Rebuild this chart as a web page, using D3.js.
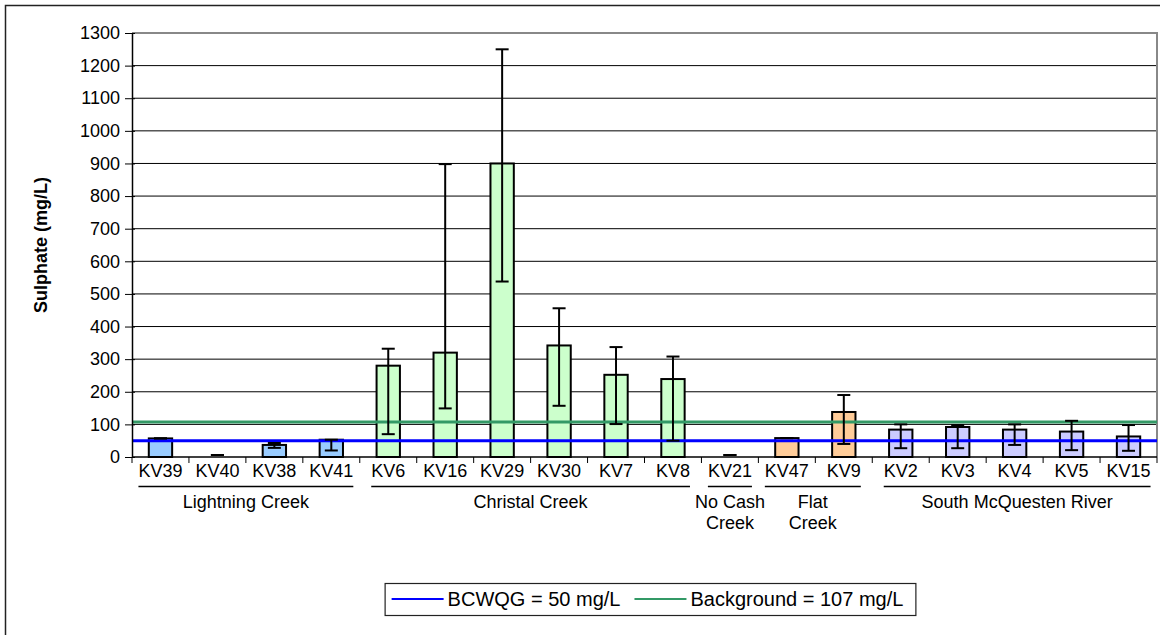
<!DOCTYPE html>
<html>
<head>
<meta charset="utf-8">
<script src="https://cdnjs.cloudflare.com/ajax/libs/d3/7.8.5/d3.min.js"></script>
<style>
  body { margin: 0; background: #fff; }
  svg { display: block; font-family: Arial, "Liberation Sans", sans-serif; }
</style>
</head>
<body>
<div id="chart"></div>
<script>
// sampling stations (x categories)
var categories = ["KV39", "KV40", "KV38", "KV41", "KV6", "KV16", "KV29", "KV30", "KV7", "KV8",
                  "KV21", "KV47", "KV9", "KV2", "KV3", "KV4", "KV5", "KV15"];
// mean sulphate (mg/L)
var means   = [57, 0, 37, 53, 280, 320, 900, 342, 252, 239, 0, 58, 138, 84, 92, 84, 78, 63];
// error bar ends (min / max)
var errLow  = [57, 0, 28, 20, 70, 149, 538, 157, 101, 50, 0, 58, 40, 27, 27, 37, 21, 19];
var errHigh = [57, 0, 43, 53, 332, 898, 1250, 456, 337, 308, 0, 58, 190, 100, 98, 100, 111, 98];

// creek groups
var groupNames  = [["Lightning Creek"], ["Christal Creek"], ["No Cash", "Creek"], ["Flat", "Creek"], ["South McQuesten River"]];
var groupStart  = [0, 4, 10, 11, 13];
var groupEnd    = [3, 9, 10, 12, 17];
var groupColors = ["#99ccff", "#ccffcc", "#ffffff", "#ffcc99", "#ccccff"];

// guideline values
var bcwqg = 50;
var background = 107;
var legendLabels = ["BCWQG = 50 mg/L", "Background = 107 mg/L"];
var legendColors = ["#0000ff", "#339966"];

var yTicks = d3.range(0, 1301, 100);

var width = 1160, height = 635;
var margin = { top: 33, right: 3, bottom: 177, left: 132 };

var svg = d3.select("#chart").append("svg")
    .attr("width", width)
    .attr("height", height);

// outer chart frame (runs off the right/bottom edge)
svg.append("rect")
    .attr("x", 5.5).attr("y", 5.5)
    .attr("width", width + 10).attr("height", height + 10)
    .attr("fill", "#fff")
    .attr("stroke", "#222")
    .attr("stroke-width", 1.5);

var x = d3.scaleBand()
    .domain(categories)
    .range([margin.left, width - margin.right]);

var y = d3.scaleLinear()
    .domain([0, 1300])
    .range([height - margin.bottom - 1, margin.top]);

function groupOf(i) {
    for (var g = 0; g < groupStart.length; g++) {
        if (i >= groupStart[g] && i <= groupEnd[g]) return g;
    }
    return 0;
}

// gridlines
svg.append("g")
    .selectAll("line")
    .data(yTicks.slice(1))
    .enter().append("line")
    .attr("x1", x.range()[0]).attr("x2", x.range()[1])
    .attr("y1", function (d) { return y(d); })
    .attr("y2", function (d) { return y(d); })
    .attr("stroke", "#000")
    .attr("stroke-width", 1);

// plot area border (top / right in grey)
svg.append("path")
    .attr("d", "M" + x.range()[0] + "," + y(1300) + "H" + x.range()[1] + "V" + y(0))
    .attr("fill", "none")
    .attr("stroke", "#888")
    .attr("stroke-width", 2);

// bars
var barW = x.bandwidth() * 0.41;
svg.append("g")
    .selectAll("rect")
    .data(categories)
    .enter().append("rect")
    .attr("x", function (d) { return x(d) + (x.bandwidth() - barW) / 2; })
    .attr("y", function (d, i) { return y(means[i]); })
    .attr("width", barW)
    .attr("height", function (d, i) { return y(0) - y(means[i]); })
    .attr("fill", function (d, i) { return groupColors[groupOf(i)]; })
    .attr("stroke", "#000")
    .attr("stroke-width", 2);

// guideline lines
svg.append("line")
    .attr("x1", x.range()[0]).attr("x2", x.range()[1])
    .attr("y1", y(background)).attr("y2", y(background))
    .attr("stroke", legendColors[1]).attr("stroke-width", 3);
svg.append("line")
    .attr("x1", x.range()[0]).attr("x2", x.range()[1])
    .attr("y1", y(bcwqg)).attr("y2", y(bcwqg))
    .attr("stroke", legendColors[0]).attr("stroke-width", 3);

// error bars
var capW = 13;
var err = svg.append("g")
    .selectAll("g")
    .data(categories)
    .enter().append("g")
    .attr("stroke", "#000")
    .attr("stroke-width", 2);
err.append("line")
    .attr("x1", function (d) { return x(d) + x.bandwidth() / 2; })
    .attr("x2", function (d) { return x(d) + x.bandwidth() / 2; })
    .attr("y1", function (d, i) { return y(errLow[i]); })
    .attr("y2", function (d, i) { return y(errHigh[i]); });
[errLow, errHigh].forEach(function (arr) {
    err.append("line")
        .attr("x1", function (d) { return x(d) + x.bandwidth() / 2 - capW / 2; })
        .attr("x2", function (d) { return x(d) + x.bandwidth() / 2 + capW / 2; })
        .attr("y1", function (d, i) { return y(arr[i]) - (arr[i] === 0 ? 2 : 0); })
        .attr("y2", function (d, i) { return y(arr[i]) - (arr[i] === 0 ? 2 : 0); });
});

// y axis
var yAxis = d3.axisLeft(y).tickValues(yTicks).tickFormat(d3.format("d"))
    .tickSizeInner(7).tickSizeOuter(0).tickPadding(5);
var gy = svg.append("g")
    .attr("transform", "translate(" + x.range()[0] + ",0)")
    .call(yAxis);
gy.select(".domain").attr("stroke", "#000").attr("stroke-width", 1.5);
gy.selectAll(".tick line").attr("stroke", "#000").attr("x2", -7).attr("x1", 3);
gy.selectAll(".tick text").attr("font-size", 18).attr("fill", "#000").attr("font-family", null);

// x axis line and boundary ticks
svg.append("line")
    .attr("x1", x.range()[0]).attr("x2", x.range()[1])
    .attr("y1", y(0)).attr("y2", y(0))
    .attr("stroke", "#000").attr("stroke-width", 1.5);
svg.append("g")
    .selectAll("line")
    .data(categories.concat([null]))
    .enter().append("line")
    .attr("x1", function (d, i) { return x.range()[0] + i * x.step(); })
    .attr("x2", function (d, i) { return x.range()[0] + i * x.step(); })
    .attr("y1", y(0)).attr("y2", y(0) + 6)
    .attr("stroke", "#000").attr("stroke-width", 1);

// category labels
var catLabels = svg.append("g")
    .selectAll("text")
    .data(categories)
    .enter().append("text")
    .attr("x", function (d) { return x(d) + x.bandwidth() / 2; })
    .attr("y", 477)
    .attr("text-anchor", "middle")
    .attr("font-size", 18)
    .text(function (d) { return d; });

// group underlines and names
var labelNodes = catLabels.nodes();
groupNames.forEach(function (name, g) {
    var b0 = labelNodes[groupStart[g]].getBBox();
    var b1 = labelNodes[groupEnd[g]].getBBox();
    var x0 = b0.x, x1 = b1.x + b1.width;
    svg.append("line")
        .attr("x1", x0).attr("x2", x1)
        .attr("y1", 486.5).attr("y2", 486.5)
        .attr("stroke", "#000").attr("stroke-width", 1.5);
    var t = svg.append("text")
        .attr("text-anchor", "middle")
        .attr("font-size", 18)
        .attr("y", 508);
    name.forEach(function (line, k) {
        t.append("tspan")
            .attr("x", (x0 + x1) / 2)
            .attr("dy", k === 0 ? 0 : 21)
            .text(line);
    });
});

// y axis title
svg.append("text")
    .attr("transform", "translate(47," + ((y(0) + y(1300)) / 2) + ") rotate(-90)")
    .attr("text-anchor", "middle")
    .attr("font-size", 18)
    .attr("font-weight", "bold")
    .text("Sulphate (mg/L)");

// legend
var legend = svg.append("g");
var legendBox = legend.append("rect")
    .attr("fill", "#fff")
    .attr("stroke", "#222")
    .attr("stroke-width", 1.2);
var lineLen = 52, cursor = 0, items = [];
legendLabels.forEach(function (lab, i) {
    var it = legend.append("g");
    it.append("line")
        .attr("x1", cursor).attr("x2", cursor + lineLen)
        .attr("y1", 0).attr("y2", 0)
        .attr("stroke", legendColors[i]).attr("stroke-width", 2);
    var tx = it.append("text")
        .attr("x", cursor + lineLen + 4)
        .attr("y", 7)
        .attr("font-size", 20)
        .text(lab);
    cursor += lineLen + 4 + tx.node().getComputedTextLength() + 14;
    items.push(it);
});
var legW = cursor - 14 + 7 + 12;
var legX = 650 - legW / 2;
legendBox.attr("x", legX + 0.5).attr("y", 583.5).attr("width", legW).attr("height", 32);
items.forEach(function (it) {
    it.attr("transform", "translate(" + (legX + 7) + ",599)");
});
</script>
</body>
</html>
